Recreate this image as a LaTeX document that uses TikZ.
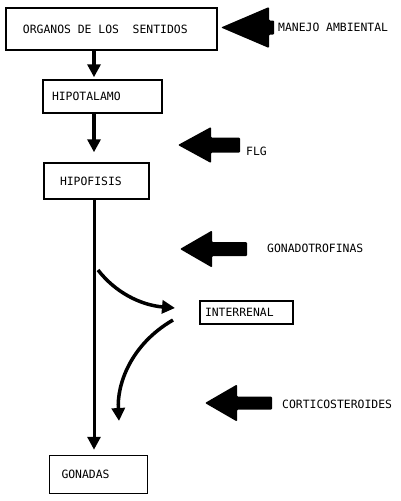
\documentclass[tikz,border=0pt]{standalone}
\usepackage{fontspec}
\setmonofont[WordSpace={1,0,0}]{DejaVu Sans Mono}
\usetikzlibrary{arrows.meta, calc}

\tikzset{
  box/.style={draw, line width=1.5pt, align=left, inner ysep=0pt,
    font=\ttfamily\fontsize{11.4}{13}\selectfont},
  lbl/.style={anchor=west, inner sep=0pt, font=\ttfamily\fontsize{11.4}{13}\selectfont},
  flow/.style={line width=3.5pt, -{Triangle[length=13pt, width=13pt]}},
  fatarrow/.style={fill=black, rounded corners=1pt}
}

\begin{document}
\begin{tikzpicture}[x=1pt, y=-1pt]
\useasboundingbox (0,0) rectangle (400,501);

% Column of the main chain
\coordinate (axis) at (94,0);

% Boxes
\node[box, minimum width=211, minimum height=42, inner xsep=17, text width=177]
  (organos) at (111.5,29) {ORGANOS\hspace{0.6em}DE\hspace{0.6em}LOS\hspace{1.2em}SENTIDOS};
\node[box, minimum width=119, minimum height=33, inner xsep=9, text width=101]
  (hipotalamo) at (102.5,96.5) {HIPOTALAMO};
\node[box, minimum width=105, minimum height=36, inner xsep=16, text width=73]
  (hipofisis) at (96.5,181) {HIPOFISIS};
\node[box, minimum width=93, minimum height=23, inner xsep=5, text width=83]
  (interrenal) at (246.5,312.5) {INTERRENAL};
\node[box, minimum width=98, minimum height=38, inner xsep=12, text width=74]
  (gonadas) at (98.5,474.5) {GONADAS};

% Main chain
\draw[flow, shorten >=2pt] (organos.south -| axis) -- (hipotalamo.north -| axis);
\draw[flow, shorten >=10pt] (hipotalamo.south -| axis) -- (hipofisis.north -| axis);
\draw[flow, line width=3pt, shorten >=5pt] (hipofisis.south -| axis) -- (gonadas.north -| axis);

% Loop through the interrenal
\coordinate (branch) at (98,270);
\coordinate (intin) at (175,308);
\coordinate (intout) at (173,320);
\coordinate (cortend) at (119,421);
\draw[flow] (branch) .. controls (115,292) and (140,305) .. (intin);
\draw[flow] (intout) .. controls (130,345) and (117,385) .. (cortend);

% Fat arrows
\fill[fatarrow] (221,27.5) -- ++(48,-20.5) -- ++(0,13.5) -- ++(5,0) -- ++(0,14)
  -- ++(-5,0) -- ++(0,13.5) -- cycle;
\fill[fatarrow] (178,145) -- ++(33,-18) -- ++(0,10.5) -- ++(29,0) -- ++(0,15)
  -- ++(-29,0) -- ++(0,10.5) -- cycle;
\fill[fatarrow] (180,249) -- ++(32,-18.5) -- ++(0,11.5) -- ++(35,0) -- ++(0,14)
  -- ++(-35,0) -- ++(0,11.5) -- cycle;
\fill[fatarrow] (205,403) -- ++(32,-18.5) -- ++(0,12) -- ++(35,0) -- ++(0,13)
  -- ++(-35,0) -- ++(0,12) -- cycle;

% Labels
\node[lbl] (manejo) at (278,27) {MANEJO AMBIENTAL};
\node[lbl] (flg) at (246,151) {FLG};
\node[lbl] (gonadotrofinas) at (267,248) {GONADOTROFINAS};
\node[lbl] (corticosteroides) at (282,404) {CORTICOSTEROIDES};

\end{tikzpicture}
\end{document}
